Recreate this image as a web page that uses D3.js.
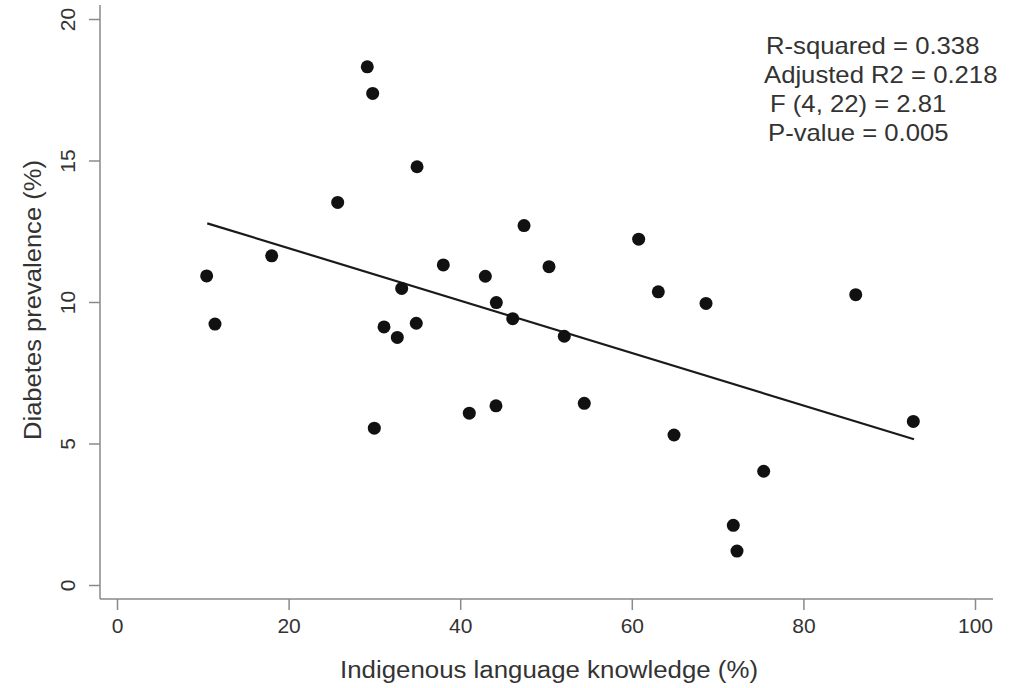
<!DOCTYPE html>
<html>
<head>
<meta charset="utf-8">
<script src="https://cdn.jsdelivr.net/npm/d3@7"></script>
<style>
  html, body { margin: 0; padding: 0; background: #fff; }
  svg { display: block; }
  text { font-family: "Liberation Sans", Arial, sans-serif; fill: #333; }
</style>
</head>
<body>
<svg id="chart" width="1020" height="688"></svg>
<script>
// ---- data ----
const languageKnowledge = [10.45, 11.42, 18.03, 25.72, 29.17, 29.80, 29.99, 31.12, 32.67, 33.18,
  34.88, 34.97, 38.03, 41.06, 42.93, 44.21, 44.17, 46.12, 47.44, 50.35, 52.13, 54.46,
  60.80, 63.09, 64.92, 68.65, 71.83, 72.26, 75.37, 86.10, 92.81];
const diabetesPrevalence = [10.92, 9.22, 11.63, 13.52, 18.31, 17.37, 5.54, 9.12, 8.75, 10.48,
  9.25, 14.78, 11.31, 6.07, 10.91, 9.98, 6.33, 9.41, 12.70, 11.25, 8.79, 6.42,
  12.22, 10.36, 5.30, 9.95, 2.11, 1.20, 4.02, 10.26, 5.78];
const fitX = [10.52, 92.89];
const fitY = [12.78, 5.15];
const xTicks = [0, 20, 40, 60, 80, 100];
const yTicks = [0, 5, 10, 15, 20];
const statsLines = ["R-squared = 0.338", "Adjusted R2 = 0.218", "F (4, 22) = 2.81", "P-value = 0.005"];
const xTitle = "Indigenous language knowledge (%)";
const yTitle = "Diabetes prevalence (%)";

// ---- layout ----
const svg = d3.select("#chart");
const x = d3.scaleLinear().domain([0, 100]).range([117, 975]);
const y = d3.scaleLinear().domain([0, 20]).range([585, 19]);
const plotLeft = 100, plotRight = 993, plotBottom = 599, plotTop = 5;
const axisColor = "#8a8a8a";
const fontFam = "'Liberation Sans', Arial, sans-serif";

// axis frame lines
svg.append("line").attr("x1", plotLeft).attr("x2", plotRight)
  .attr("y1", plotBottom).attr("y2", plotBottom)
  .attr("stroke", axisColor).attr("stroke-width", 1.5);
svg.append("line").attr("x1", plotLeft).attr("x2", plotLeft)
  .attr("y1", plotTop).attr("y2", plotBottom)
  .attr("stroke", axisColor).attr("stroke-width", 1.5);

// x axis
const gx = svg.append("g").attr("transform", `translate(0,${plotBottom})`)
  .call(d3.axisBottom(x).tickValues(xTicks).tickSize(11).tickPadding(8).tickFormat(d3.format("d")));
gx.select(".domain").remove();
gx.selectAll(".tick line").attr("stroke", axisColor).attr("stroke-width", 1.5);
gx.selectAll(".tick text").attr("font-size", 21).attr("fill", "#333")
  .style("font-family", fontFam);

// y axis
const gy = svg.append("g").attr("transform", `translate(${plotLeft},0)`)
  .call(d3.axisLeft(y).tickValues(yTicks).tickSize(11).tickPadding(8).tickFormat(d3.format("d")));
gy.select(".domain").remove();
gy.selectAll(".tick line").attr("stroke", axisColor).attr("stroke-width", 1.5);
gy.selectAll(".tick text")
  .attr("font-size", 21).attr("fill", "#333")
  .style("font-family", fontFam)
  .attr("text-anchor", "middle")
  .attr("dy", 0)
  .attr("x", 0)
  .attr("transform", "translate(-33,0) rotate(-90)")
  .attr("dominant-baseline", "central");

// axis titles
svg.append("text").attr("x", 549).attr("y", 678)
  .attr("text-anchor", "middle").attr("font-size", 23)
  .attr("textLength", 418).attr("lengthAdjust", "spacingAndGlyphs")
  .text(xTitle);
svg.append("text")
  .attr("transform", "translate(41,300) rotate(-90)")
  .attr("text-anchor", "middle").attr("font-size", 23)
  .attr("textLength", 280).attr("lengthAdjust", "spacingAndGlyphs")
  .text(yTitle);

// regression line
svg.append("line")
  .attr("x1", x(fitX[0])).attr("y1", y(fitY[0]))
  .attr("x2", x(fitX[1])).attr("y2", y(fitY[1]))
  .attr("stroke", "#1a1a1a").attr("stroke-width", 2.2);

// points
svg.append("g").selectAll("circle")
  .data(languageKnowledge.map((v, i) => [v, diabetesPrevalence[i]]))
  .join("circle")
  .attr("cx", d => x(d[0])).attr("cy", d => y(d[1]))
  .attr("r", 6.5).attr("fill", "#111");

// stats annotation
const statsX = [766, 764, 770, 768];
svg.append("g").selectAll("text").data(statsLines).join("text")
  .attr("x", (d, i) => statsX[i])
  .attr("y", (d, i) => 54 + i * 29)
  .attr("font-size", 24).attr("fill", "#222")
  .text(d => d)
  .each(function() {
    const w = this.getComputedTextLength();
    d3.select(this).attr("textLength", w * 1.07).attr("lengthAdjust", "spacingAndGlyphs");
  });
</script>
</body>
</html>
